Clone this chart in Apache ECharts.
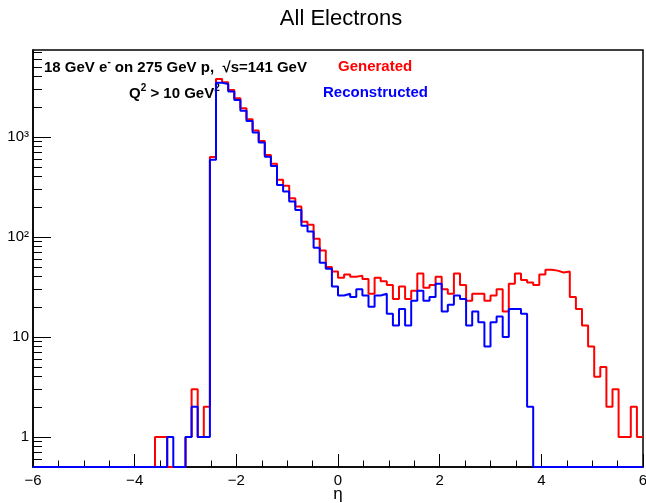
<!DOCTYPE html>
<html><head><meta charset="utf-8">
<script src="https://cdn.jsdelivr.net/npm/echarts@6/dist/echarts.min.js"></script>
<style>html,body{margin:0;padding:0;background:#fff}#c{width:646px;height:503px}</style>
</head><body><div id="c"></div>
<script>
// ---- data ----
const xMin = -6, xMax = 6, binWidth = 0.12;   // 100 bins in eta
const yMin = 0.5, yMax = 7400;
const generated = [
  0,0,0,0,0,0,0,0,0,0, 0,0,0,0,0,0,0,0,0,0,
  1,1,0,0,0,1,3,1,2,630,
  3800,3520,2950,2440,1940,1500,1160,912,661,540,
  372,324,244,201,142,132,96,73,50,45,
  39,42,40,41,38,27,39,36,33,24,
  32,24,29,43,31,33,40,30,27,43,
  33,23,27,27,23,26,30,18,34,43,
  37,35,33,42,47,46,44,45,25,19,
  13,8,4,5,2,3,1,1,2,1
];
const reconstructed = [
  0,0,0,0,0,0,0,0,0,0, 0,0,0,0,0,0,0,0,0,0,
  0,0,1,0,0,1,2,1,1,590,
  3480,3390,2840,2340,1830,1445,1110,877,635,513,
  331,284,226,186,129,113,78,55,48,32,
  26,27,25,30,26,20,26,27,17,13,
  19,13,23,29,23,25,34,18,21,26,
  24,13,18,14,8,14,16,10,19,19,
  17,2,0,0,0,0,0,0,0,0,
  0,0,0,0,0,0,0,0,0,0
];
const xTickStep = 2;
const yMajorTicks = [1, 10, 100, 1000];
const yMajorLabels = ['1', '10', '10²', '10³'];
const yMinorTicks = [0.6,0.7,0.8,0.9,2,3,4,5,6,7,8,9,20,30,40,50,60,70,80,90,
  200,300,400,500,600,700,800,900,2000,3000,4000,5000,6000,7000];

// ---- build step outlines ----
function steps(vals){
  const pts = [];
  for (let i = 0; i < vals.length; i++){
    const lo = xMin + i*binWidth, hi = xMin + (i+1)*binWidth;
    const v = Math.max(vals[i], yMin);
    pts.push([lo, v], [hi, v]);
  }
  return pts;
}

const FONT = '"Liberation Sans", Arial, Helvetica, sans-serif';
const chart = echarts.init(document.getElementById('c'), null, {renderer:'canvas'});
chart.setOption({
  animation: false,
  backgroundColor: '#fff',
  grid: {left:33, right:3, top:50, bottom:36, show:true, borderColor:'#000', borderWidth:1.5, outerBoundsMode:'none'},
  xAxis: {
    type:'value', min:xMin, max:xMax, interval:xTickStep,
    axisLine:{show:true, onZero:false, lineStyle:{color:'#000', width:1.5}},
    axisTick:{inside:true, length:13, lineStyle:{color:'#000', width:1}},
    minorTick:{show:true, splitNumber:4, length:6.5, lineStyle:{color:'#000', width:1}},
    splitLine:{show:false},
    axisLabel:{color:'#000', fontSize:15, fontFamily:FONT, margin:6,
      formatter: v => String(v).replace('-', '\u2212')},
    name:'\u03b7', nameLocation:'middle', nameGap:19, nameMoveOverlap:false,
    nameTextStyle:{color:'#000', fontSize:17, fontFamily:FONT}
  },
  yAxis: [{
    type:'log', logBase:10, min:yMin, max:yMax, position:'left',
    axisLine:{show:true, onZero:false, lineStyle:{color:'#000', width:1.5}},
    axisTick:{inside:true, length:18, customValues:yMajorTicks, lineStyle:{color:'#000', width:1}},
    splitLine:{show:false},
    axisLabel:{color:'#000', fontSize:15, fontFamily:FONT, margin:4, customValues:yMajorTicks,
      formatter: v => yMajorLabels[yMajorTicks.indexOf(Math.round(v))] || ''}
  },{
    type:'log', logBase:10, min:yMin, max:yMax, position:'left', offset:0,
    axisLine:{show:false, onZero:false},
    axisTick:{show:true, inside:true, length:9, customValues:yMinorTicks, lineStyle:{color:'#000', width:1}},
    splitLine:{show:false},
    axisLabel:{show:false}
  }],
  series: [{
    name:'Generated', type:'line', data:steps(generated), showSymbol:false, symbol:'none',
    lineStyle:{color:'#ff0000', width:2}, z:3
  },{
    name:'Reconstructed', type:'line', data:steps(reconstructed), showSymbol:false, symbol:'none',
    lineStyle:{color:'#0000ff', width:2}, z:4
  }],
  graphic: [
    {type:'text', x:341, y:19, style:{text:'All Electrons', font:'22px '+FONT, fill:'#000', align:'center', verticalAlign:'middle'}},
    {type:'text', x:44, y:66, style:{
      text:'{b|18 GeV e}{s|-}{b| on 275 GeV p,  \u221as=141 GeV}',
      align:'left', verticalAlign:'middle',
      rich:{
        b:{fontFamily:FONT, fontSize:15, fontWeight:'bold', fill:'#000', lineHeight:18, verticalAlign:'bottom'},
        s:{fontFamily:FONT, fontSize:10, fontWeight:'bold', fill:'#000', lineHeight:18, verticalAlign:'top'}
      }}},
    {type:'text', x:129, y:92, style:{
      text:'{b|Q}{s|2}{b| > 10 GeV}{s|2}',
      align:'left', verticalAlign:'middle',
      rich:{
        b:{fontFamily:FONT, fontSize:15, fontWeight:'bold', fill:'#000', lineHeight:18, verticalAlign:'bottom'},
        s:{fontFamily:FONT, fontSize:10, fontWeight:'bold', fill:'#000', lineHeight:18, verticalAlign:'top'}
      }}},
    {type:'text', x:338, y:67, style:{text:'Generated', font:'bold 15px '+FONT, fill:'#ff0000', align:'left', verticalAlign:'middle'}},
    {type:'text', x:323, y:93, style:{text:'Reconstructed', font:'bold 15px '+FONT, fill:'#0000ff', align:'left', verticalAlign:'middle'}}
  ]
});
</script></body></html>
